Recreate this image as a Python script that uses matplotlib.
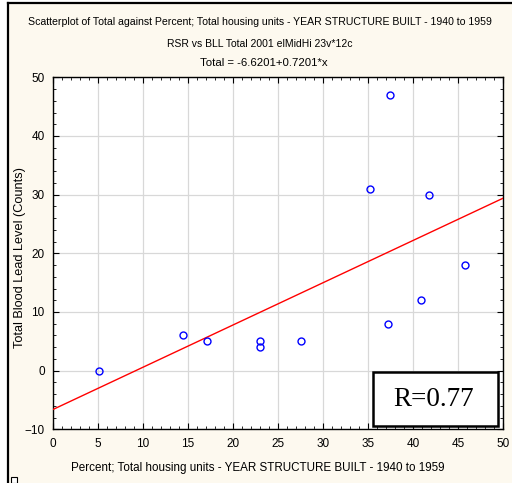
import matplotlib
matplotlib.use("Agg")
import matplotlib.pyplot as plt
import numpy as np
from matplotlib.patches import Rectangle
from matplotlib.lines import Line2D
from matplotlib.ticker import MultipleLocator

plt.rcParams['font.family'] = ['Liberation Sans', 'DejaVu Sans']

# Percent of housing units built 1940-1959 vs total blood lead level counts
pct_1940_1959 = [5.1, 14.4, 17.1, 23.0, 23.0, 27.5, 35.2, 37.4, 37.2, 40.9, 41.8, 45.8]
total_bll = [0, 6, 5, 5, 4, 5, 31, 47, 8, 12, 30, 18]

intercept = -6.6201
slope = 0.7201
r_value = 0.77

x_ticks = [0, 5, 10, 15, 20, 25, 30, 35, 40, 45, 50]
y_ticks = [-10, 0, 10, 20, 30, 40, 50]

W, H = 512, 483
fig = plt.figure(figsize=(W / 100, H / 100), dpi=100, facecolor='white')

# cream panel with black left/top frame
cream = '#fdf9ef'
fig.patches.append(Rectangle((8 / W, 0), 1 - 8 / W, 1 - 3 / H, transform=fig.transFigure,
                             facecolor=cream, edgecolor='none', zorder=-10))
fig.lines.append(Line2D([8 / W, 8 / W], [0, 1 - 3 / H], transform=fig.transFigure,
                        color='black', lw=1.6, zorder=-5))
fig.lines.append(Line2D([8 / W, 1], [1 - 3 / H, 1 - 3 / H], transform=fig.transFigure,
                        color='black', lw=1.6, zorder=-5))
fig.patches.append(Rectangle((11 / W, 0), 6 / W, 6 / H, transform=fig.transFigure,
                             facecolor='white', edgecolor='black', lw=0.8, zorder=-5))

ax = fig.add_axes([53 / W, 1 - 429.3 / H, 450 / W, (429.3 - 77.3) / H])
ax.set_facecolor('white')
ax.set_xlim(0, 50)
ax.set_ylim(-10, 50)
ax.set_xticks(x_ticks)
ax.set_yticks(y_ticks)
ax.xaxis.set_minor_locator(MultipleLocator(1))
ax.yaxis.set_minor_locator(MultipleLocator(2))
ax.tick_params(which='both', direction='in', top=True, right=True,
               labelsize=8.5, colors='black', pad=6)
ax.tick_params(which='major', length=4, width=0.8)
ax.tick_params(which='minor', length=2, width=0.6)
ax.grid(True, which='major', color='#d8d8d8', lw=0.9)
ax.set_axisbelow(True)
for s in ax.spines.values():
    s.set_linewidth(1.0)
    s.set_color('black')

xs = np.array([0, 50])
ax.plot(xs, intercept + slope * xs, color='#ff0000', lw=1.0, zorder=3)
ax.plot(pct_1940_1959, total_bll, linestyle='none', marker='o', ms=5.0,
        mfc='none', mec='#0000ff', mew=1.0, zorder=4)

ax.add_patch(Rectangle(((373 - 53) / 450, (429.3 - 426) / 352), 125 / 450, 54 / 352,
                       transform=ax.transAxes, facecolor='white', edgecolor='black',
                       lw=1.8, zorder=5))
ax.text((434 - 53) / 450, (429.3 - 399) / 352, f'R={r_value}', transform=ax.transAxes,
        ha='center', va='center', fontsize=19.5, family='Liberation Serif', zorder=6)

cx = 0.5 * (1 + 8 / W)
fig.text(cx, 1 - 22 / H,
         'Scatterplot of Total against Percent; Total housing units - YEAR STRUCTURE BUILT - 1940 to 1959',
         ha='center', va='center', fontsize=7.6)
fig.text(cx, 1 - 44 / H, 'RSR vs BLL Total 2001 elMidHi 23v*12c',
         ha='center', va='center', fontsize=7.5)
fig.text(cx + 4 / W, 1 - 63 / H, 'Total = -6.6201+0.7201*x',
         ha='center', va='center', fontsize=8.2)

fig.text(258 / W, 1 - 468 / H,
         'Percent; Total housing units - YEAR STRUCTURE BUILT - 1940 to 1959',
         ha='center', va='center', fontsize=8.4)
fig.text(20 / W, 1 - 257 / H, 'Total Blood Lead Level (Counts)', rotation=90,
         ha='center', va='center', fontsize=9.2)

fig.savefig('out.png', dpi=100, facecolor=fig.get_facecolor())
